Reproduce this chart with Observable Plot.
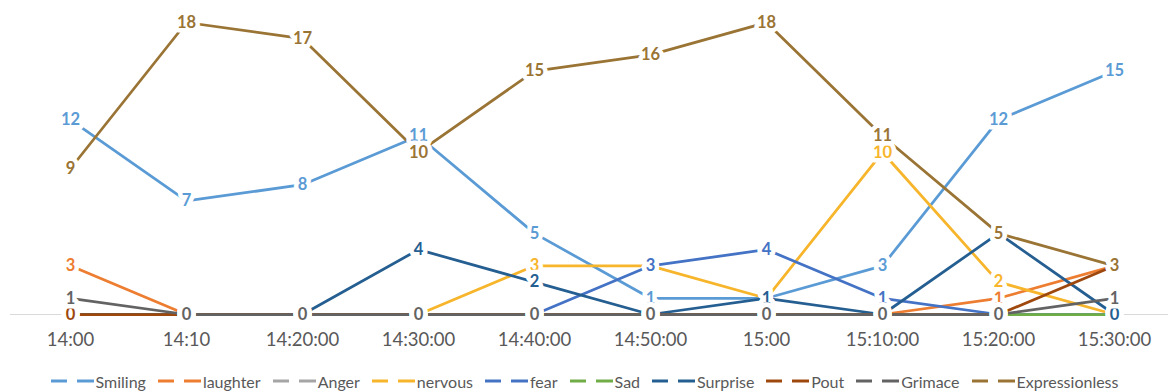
<!DOCTYPE html>
<html>
<head>
<meta charset="utf-8">
<script src="https://cdn.jsdelivr.net/npm/d3@7"></script>
<script src="https://cdn.jsdelivr.net/npm/@observablehq/plot@0.6"></script>
<style>
  html, body { margin: 0; padding: 0; background: #fff; }
  #chart { width: 1169px; height: 392px; overflow: hidden; }
  #legend { display: flex; justify-content: center; align-items: center; height: 30px; margin-top: 12px; font-family: Lato, "Open Sans", sans-serif; font-size: 16px; color: #595959; }
  .item { display: flex; align-items: center; margin: 0 6px; white-space: nowrap; }
  .item svg { margin-right: 2px; }
</style>
</head>
<body>
<div id="chart"></div>
<script>
const times = ["14:00", "14:10", "14:20:00", "14:30:00", "14:40:00", "14:50:00", "15:00", "15:10:00", "15:20:00", "15:30:00"];
const seriesNames = ["Smiling", "laughter", "Anger", "nervous", "fear", "Sad", "Surprise", "Pout", "Grimace", "Expressionless"];
const seriesColors = ["#5B9BD5", "#ED7D31", "#A5A5A5", "#F7B52C", "#4472C4", "#70AD47", "#255E91", "#9E480E", "#636363", "#9A7434"];

const smiling        = [12, 7, 8, 11, 5, 1, 1, 3, 12, 15];
const laughter       = [3, 0, 0, 0, 0, 0, 0, 0, 1, 3];
const anger          = [0, 0, 0, 0, 0, 0, 0, 0, 0, 0];
const nervous        = [0, 0, 0, 0, 3, 3, 1, 10, 2, 0];
const fear           = [0, 0, 0, 0, 0, 3, 4, 1, 0, 0];
const sad            = [0, 0, 0, 0, 0, 0, 0, 0, 0, 0];
const surprise       = [0, 0, 0, 4, 2, 0, 1, 0, 5, 0];
const pout           = [0, 0, 0, 0, 0, 0, 0, 0, 0, 3];
const grimace        = [1, 0, 0, 0, 0, 0, 0, 0, 0, 1];
const expressionless = [9, 18, 17, 10, 15, 16, 18, 11, 5, 3];

const seriesValues = [smiling, laughter, anger, nervous, fear, sad, surprise, pout, grimace, expressionless];

const data = [];
seriesNames.forEach((name, i) => {
  seriesValues[i].forEach((v, j) => {
    data.push({series: name, time: times[j], value: v, color: seriesColors[i]});
  });
});

const chart = Plot.plot({
  width: 1169,
  height: 354,
  marginLeft: 10,
  marginRight: 1,
  marginTop: 0,
  marginBottom: 40,
  style: {fontFamily: "Lato, 'Open Sans', sans-serif", background: "#fff"},
  x: {type: "point", domain: times, range: [68, 1116], padding: 0, label: null},
  y: {domain: [0, 18], range: [314, 22], axis: null},
  color: {type: "identity"},
  marks: [
    Plot.ruleY([0], {stroke: "#D9D9D9", strokeWidth: 1.2}),
    Plot.axisX({tickSize: 0, tickPadding: 18, fontSize: 18.5, color: "#595959", label: null}),
    ...seriesNames.map((name, i) =>
      Plot.line(data.filter(d => d.series === name), {
        x: "time", y: "value", stroke: seriesColors[i], strokeWidth: 2.75
      })
    ),
    Plot.text(data, {
      x: "time", y: "value", text: d => String(d.value), fill: "color",
      stroke: "white", strokeWidth: 9, strokeLinejoin: "round",
      fontWeight: "bold", fontSize: 16.5, textAnchor: "middle", lineAnchor: "middle"
    })
  ]
});
document.getElementById("chart").appendChild(chart);

const legend = document.createElement("div");
legend.id = "legend";
seriesNames.forEach((name, i) => {
  const item = document.createElement("span");
  item.className = "item";
  item.innerHTML = `<svg width="43" height="10"><line x1="0" x2="16" y1="5" y2="5" stroke="${seriesColors[i]}" stroke-width="3"/><line x1="26" x2="43" y1="5" y2="5" stroke="${seriesColors[i]}" stroke-width="3"/></svg>`;
  const t = document.createElement("span");
  t.textContent = name;
  item.appendChild(t);
  legend.appendChild(item);
});
document.getElementById("chart").appendChild(legend);
</script>
</body>
</html>
